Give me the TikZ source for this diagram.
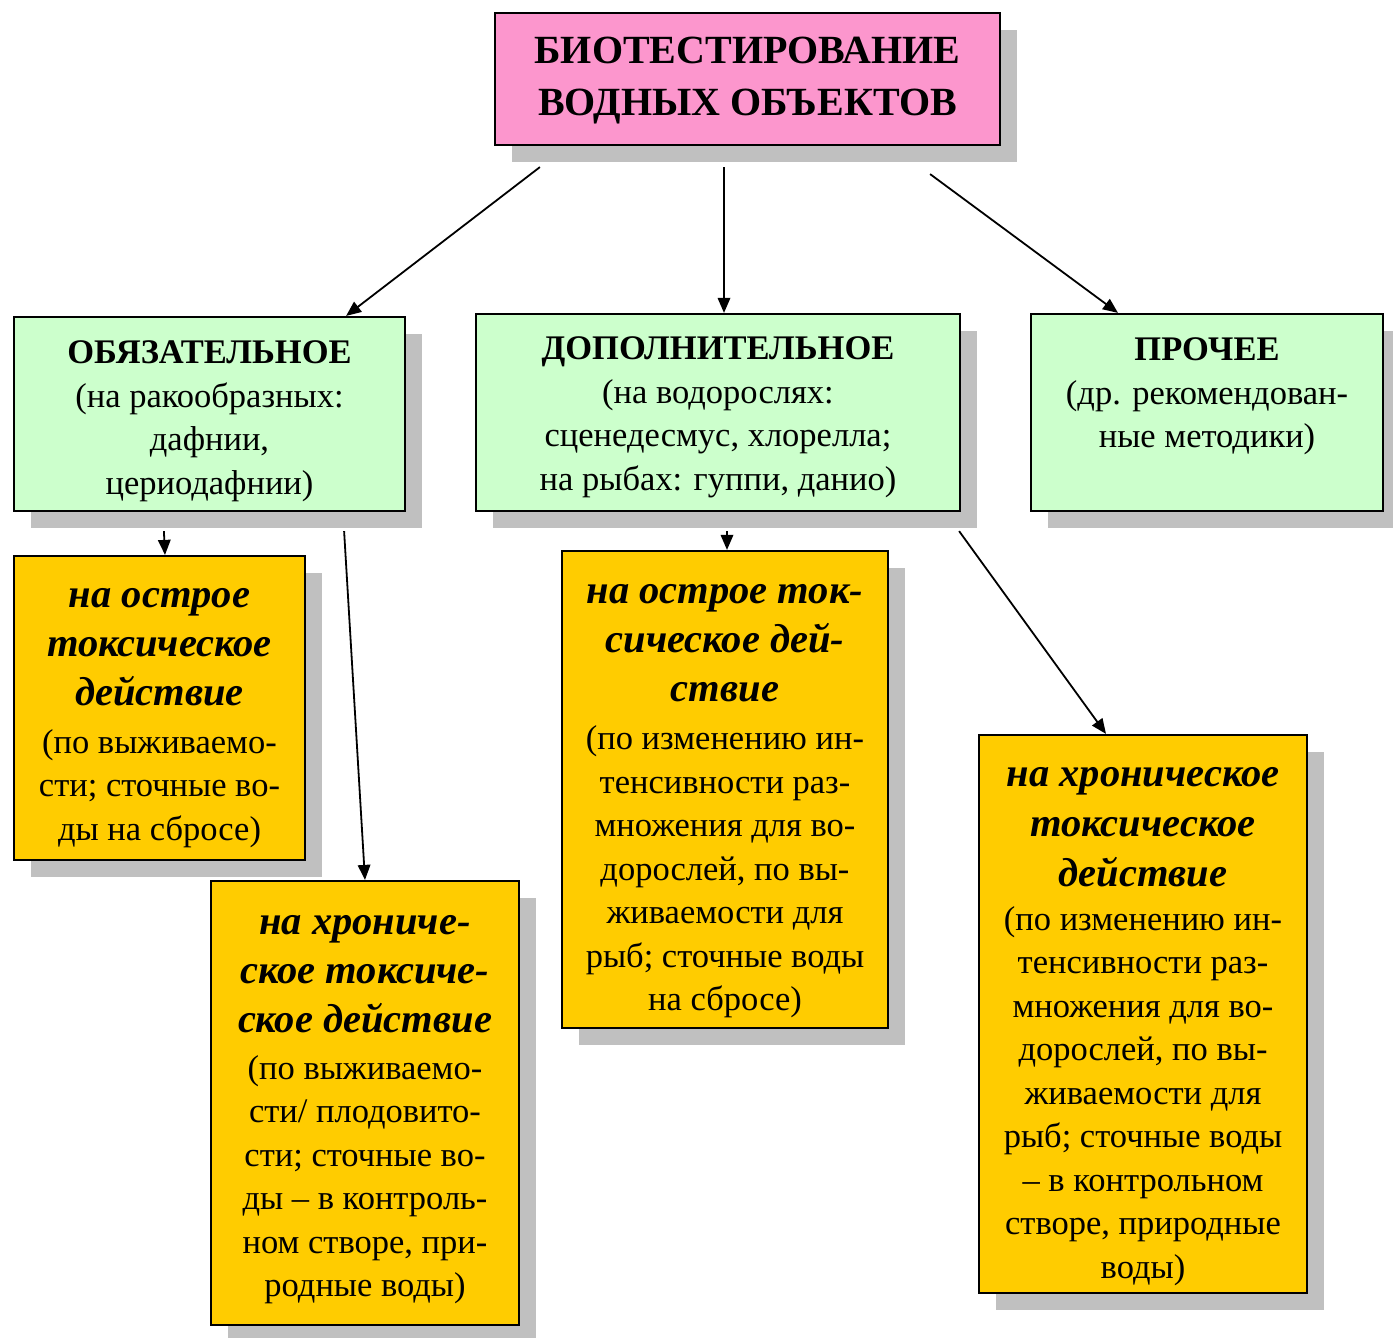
\documentclass[tikz,border=0pt]{standalone}
\usepackage{fontspec}
\setmainfont{Liberation Serif}
\usetikzlibrary{arrows.meta,shadows,calc}
\definecolor{pinkbox}{RGB}{252,150,205}
\definecolor{greenbox}{RGB}{204,255,204}
\definecolor{yellowbox}{RGB}{255,204,0}
\definecolor{shadowgray}{RGB}{192,192,192}
\newcommand\hdrfont{\fontsize{40.5}{49}\selectfont\bfseries\itshape}
\tikzset{
  box/.style={draw=black, line width=2.2pt, inner sep=0pt,
    drop shadow={shadow xshift=17pt, shadow yshift=-17pt, fill=shadowgray, opacity=1}},
  titlebox/.style={box, fill=pinkbox},
  greenbx/.style={box, fill=greenbox},
  yellowbx/.style={box, fill=yellowbox},
  txt/.style={align=center, inner sep=0pt, font=\fontsize{34.5}{43.5}\selectfont},
  titletxt/.style={txt, font=\fontsize{40}{52}\selectfont\bfseries},
  conn/.style={line width=1.8pt, -{Triangle[length=15pt,width=12.5pt]}}
}
\begin{document}
\begin{tikzpicture}[x=1pt,y=-1pt]
\useasboundingbox (0,0) rectangle (1393,1338);

% boxes
\node[titlebox, minimum width=505pt, minimum height=132pt] (top) at (747.5,79) {};
\node[greenbx, minimum width=391pt, minimum height=194pt] (g1) at (209.5,414) {};
\node[greenbx, minimum width=484pt, minimum height=197pt] (g2) at (718,412.5) {};
\node[greenbx, minimum width=352pt, minimum height=197pt] (g3) at (1207,412.5) {};
\node[yellowbx, minimum width=291pt, minimum height=304pt] (y1) at (159.5,708) {};
\node[yellowbx, minimum width=308pt, minimum height=444pt] (y2) at (365,1103) {};
\node[yellowbx, minimum width=326pt, minimum height=477pt] (y3) at (725,789.5) {};
\node[yellowbx, minimum width=328pt, minimum height=558pt] (y4) at (1143,1014) {};

% texts
\node[titletxt] (topt) at ($(top)+(0,2)$) {БИОТЕСТИРОВАНИЕ\\ВОДНЫХ ОБЪЕКТОВ};
\node[txt] (g1t) at ($(g1)+(0,7)$)
  {\textbf{ОБЯЗАТЕЛЬНОЕ}\\(на ракообразных:\\дафнии,\\цериодафнии)};
\node[txt] (g2t) at ($(g2)+(0,5)$)
  {\textbf{ДОПОЛНИТЕЛЬНОЕ}\\(на водорослях:\\сценедесмус, хлорелла;\\на рыбах: гуппи, данио)};
\node[txt] (g3t) at ($(g3)+(0,-16)$)
  {\textbf{ПРОЧЕЕ}\\(др. рекомендован-\\ные методики)};
\node[txt] (y1t) at ($(y1)+(0,10)$)
  {{\hdrfont на острое}\\[5.5pt]{\hdrfont токсическое}\\[5.5pt]{\hdrfont действие}\\[4.5pt]
   (по выживаемо-\\сти; сточные во-\\ды на сбросе)};
\node[txt] (y2t) at ($(y2)+(0,6.5)$)
  {{\hdrfont на хрониче-}\\[5.5pt]{\hdrfont ское токсиче-}\\[5.5pt]{\hdrfont ское действие}\\[3.5pt]
   (по выживаемо-\\сти/ плодовито-\\сти; сточные во-\\ды – в контроль-\\ном створе, при-\\родные воды)};
\node[txt] (y3t) at ($(y3)+(0,12)$)
  {{\hdrfont на острое ток-}\\[5.5pt]{\hdrfont сическое дей-}\\[5.5pt]{\hdrfont ствие}\\[4.5pt]
   (по изменению ин-\\тенсивности раз-\\множения для во-\\дорослей, по вы-\\живаемости для\\рыб; сточные воды\\на сбросе)};
\node[txt] (y4t) at ($(y4)+(0,12.5)$)
  {{\hdrfont на хроническое}\\[6.5pt]{\hdrfont токсическое}\\[6.5pt]{\hdrfont действие}\\[0pt]
   (по изменению ин-\\тенсивности раз-\\множения для во-\\дорослей, по вы-\\живаемости для\\рыб; сточные воды\\– в контрольном\\створе, природные\\воды)};

% connectors
\draw[conn] ($(top.south west)+(46,21)$) -- ($(g1.north east)+(-60,0)$);
\draw[conn] ($(top.south)+(-23.5,21)$) -- ($(g2.north)+(6,0)$);
\draw[conn] ($(top.south east)+(-71,28)$) -- ($(g3.north)+(-89,0)$);
\draw[conn] ($(g1.south west)+(151,19)$) -- ($(y1.north)+(5.5,0)$);
\draw[conn] ($(g1.south east)+(-62,19)$) -- (y2.north);
\draw[conn] ($(g2.south)+(9,19)$) -- ($(y3.north)+(2,0)$);
\draw[conn] ($(g2.south east)+(-2,19)$) -- ($(y4.north)+(-37,0)$);
\end{tikzpicture}
\end{document}
